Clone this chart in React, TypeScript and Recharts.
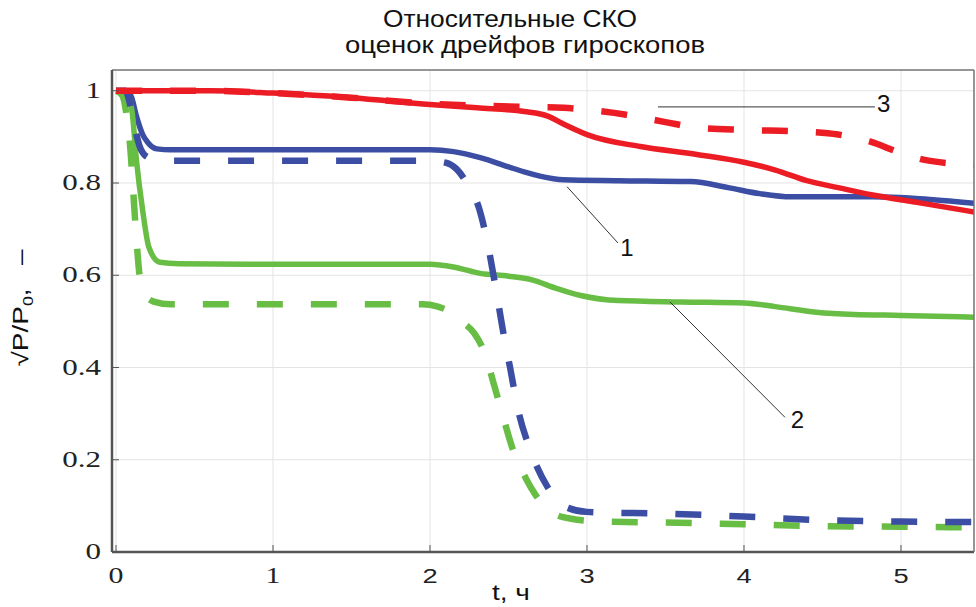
import React from "react";
import {
  LineChart,
  Line,
  XAxis,
  YAxis,
  CartesianGrid,
  ReferenceLine,
  ReferenceDot
} from "recharts";

// [t, sqrt(P/P0)]
const blueSolid = [
  [0, 1], [0.07, 1], [0.1, 0.985], [0.13, 0.945], [0.17, 0.905], [0.2, 0.889],
  [0.26, 0.874], [0.35, 0.872], [1, 0.872], [2, 0.872], [2.15, 0.868],
  [2.32, 0.855], [2.5, 0.835], [2.6, 0.824], [2.7, 0.815], [2.85, 0.807],
  [3.2, 0.805], [3.66, 0.803], [3.9, 0.79], [4.1, 0.777], [4.3, 0.77],
  [4.82, 0.77], [5.12, 0.766], [5.47, 0.756]
];
const greenSolid = [
  [0, 1], [0.05, 1], [0.1, 0.96], [0.13, 0.85], [0.17, 0.74], [0.21, 0.66],
  [0.28, 0.628], [0.4, 0.625], [1, 0.624], [2, 0.624], [2.15, 0.618],
  [2.32, 0.604], [2.5, 0.598], [2.65, 0.59], [2.8, 0.572], [2.96, 0.556],
  [3.2, 0.545], [3.6, 0.542], [4, 0.54], [4.2, 0.532], [4.46, 0.52],
  [4.7, 0.515], [5, 0.513], [5.47, 0.509]
];
const redSolid = [
  [0, 1], [0.6, 1], [1, 0.995], [1.5, 0.985], [2, 0.97], [2.3, 0.963],
  [2.6, 0.955], [2.75, 0.945], [2.85, 0.928], [3, 0.905], [3.34, 0.879],
  [3.7, 0.862], [4, 0.845], [4.2, 0.828], [4.4, 0.805], [4.6, 0.79],
  [4.82, 0.774], [5.12, 0.757], [5.47, 0.737]
];
const greenDashed = [
  [0, 1], [0.04, 0.99], [0.07, 0.94], [0.09, 0.88], [0.11, 0.78], [0.13, 0.68],
  [0.15, 0.6], [0.18, 0.56], [0.24, 0.543], [0.35, 0.537], [1, 0.537],
  [1.95, 0.537], [2.05, 0.532], [2.13, 0.52], [2.2, 0.5], [2.28, 0.475],
  [2.35, 0.43], [2.41, 0.36], [2.46, 0.3], [2.53, 0.22], [2.61, 0.16],
  [2.67, 0.125], [2.78, 0.085], [2.9, 0.072], [3.1, 0.066], [3.5, 0.064],
  [4, 0.06], [4.5, 0.056], [5, 0.055], [5.47, 0.053]
];
const blueDashed = [
  [0, 1], [0.06, 1], [0.09, 0.97], [0.12, 0.92], [0.15, 0.88], [0.2, 0.856],
  [0.28, 0.848], [1, 0.848], [2, 0.848], [2.1, 0.844], [2.17, 0.83],
  [2.25, 0.79], [2.31, 0.748], [2.36, 0.68], [2.42, 0.57], [2.47, 0.47],
  [2.51, 0.4], [2.56, 0.31], [2.64, 0.22], [2.75, 0.14], [2.85, 0.1],
  [3, 0.087], [3.5, 0.083], [4, 0.077], [4.5, 0.069], [5, 0.066], [5.47, 0.065]
];
const redDashed = [
  [0, 1], [0.6, 1], [1, 0.995], [1.5, 0.985], [2, 0.972], [2.3, 0.968],
  [2.6, 0.965], [2.85, 0.963], [3.05, 0.957], [3.25, 0.948], [3.5, 0.932],
  [3.7, 0.92], [4, 0.915], [4.35, 0.912], [4.6, 0.905], [4.8, 0.89],
  [5, 0.865], [5.15, 0.85], [5.3, 0.843], [5.47, 0.84]
];

const xTicks = [0, 1, 2, 3, 4, 5];
const yTicks = [0, 0.2, 0.4, 0.6, 0.8, 1];

// curve labels: leader line ends and text position, in data units
const callouts = [
  { text: "1", from: [2.873, 0.792], to: [3.197, 0.67], at: [3.255, 0.661] },
  { text: "2", from: [3.529, 0.542], to: [4.261, 0.292], at: [4.341, 0.288] },
  { text: "3", from: [3.452, 0.965], to: [4.834, 0.965], at: [4.889, 0.973] }
];

const RED = "#ec1c24";
const BLUE = "#3b4ea3";
const GREEN = "#68bd45";
const SANS = "'Liberation Sans', Arial, sans-serif";
const SERIF = "'Liberation Serif', 'Times New Roman', serif";

const toPts = (a: number[][]) => a.map(([t, v]) => ({ t, v }));

const XTick = ({ x, y, payload }: any) => {
  const serif = payload.value < 2;
  return (
    <g transform={`translate(${x},${y + 16}) scale(1.3,1)`}>
      <text x={0} y={0} textAnchor="middle" fill="#222"
        style={{ fontFamily: serif ? SERIF : SANS, fontSize: serif ? 23 : 21 }}>
        {payload.value}
      </text>
    </g>
  );
};

const YTick = ({ x, y, payload }: any) => (
  <g transform={`translate(${x},${y}) scale(1.35,1)`}>
    <text x={0} y={0} dy={7} textAnchor="end" fill="#222"
      style={{ fontFamily: SERIF, fontSize: 23 }}>
      {payload.value}
    </text>
  </g>
);

export default function App() {
  return (
    <div style={{ position: "absolute", left: 0, top: 0, width: 976, height: 607, background: "#fff" }}>
      <LineChart width={976} height={607}
        margin={{ top: 69, right: 0, bottom: 25, left: 52 }}>
        <CartesianGrid stroke="#e3e3e3" strokeWidth={1} />
        <XAxis dataKey="t" type="number" domain={[-0.0255, 5.465]} ticks={xTicks}
          allowDataOverflow height={30} tickSize={-7} tickMargin={22}
          tick={(p: any) => <XTick {...p} />} tickLine={{ stroke: "#555" }}
          axisLine={{ stroke: "#555", strokeWidth: 2.5 }} />
        <XAxis xAxisId="top" orientation="top" dataKey="t" type="number"
          domain={[-0.0255, 5.465]} ticks={xTicks} allowDataOverflow height={1}
          tickSize={-7} tick={false} tickLine={{ stroke: "#666" }}
          axisLine={{ stroke: "#777", strokeWidth: 1.5 }} />
        <YAxis type="number" domain={[0, 1.045]} ticks={yTicks} allowDataOverflow
          width={60} tickSize={-7} tickMargin={18} tick={(p: any) => <YTick {...p} />}
          tickLine={{ stroke: "#555" }} axisLine={{ stroke: "#555", strokeWidth: 2.5 }} />
        <YAxis yAxisId="right" orientation="right" type="number" domain={[0, 1.045]}
          ticks={yTicks} allowDataOverflow width={2} tickSize={-7} tick={false}
          tickLine={{ stroke: "#666" }} axisLine={{ stroke: "#777", strokeWidth: 1.5 }} />

        <Line data={toPts(blueSolid)} dataKey="v" type="monotone" stroke={BLUE}
          strokeWidth={5.5} dot={false} isAnimationActive={false} />
        <Line data={toPts(greenSolid)} dataKey="v" type="monotone" stroke={GREEN}
          strokeWidth={5.5} dot={false} isAnimationActive={false} />
        <Line data={toPts(redSolid)} dataKey="v" type="monotone" stroke={RED}
          strokeWidth={5.5} dot={false} isAnimationActive={false} />
        <Line data={toPts(greenDashed)} dataKey="v" type="monotone" stroke={GREEN}
          strokeWidth={6.5} strokeDasharray="26 28" dot={false} isAnimationActive={false} />
        <Line data={toPts(blueDashed)} dataKey="v" type="monotone" stroke={BLUE}
          strokeWidth={6.5} strokeDasharray="26 28" dot={false} isAnimationActive={false} />
        <Line data={toPts(redDashed)} dataKey="v" type="monotone" stroke={RED}
          strokeWidth={6.5} strokeDasharray="26 28" dot={false} isAnimationActive={false} />

        {callouts.map((c) => (
          <ReferenceLine key={"l" + c.text}
            segment={[{ x: c.from[0], y: c.from[1] }, { x: c.to[0], y: c.to[1] }]}
            stroke="#333" strokeWidth={1} />
        ))}
        {callouts.map((c) => (
          <ReferenceDot key={"d" + c.text} x={c.at[0]} y={c.at[1]} r={0}
            stroke="none" fill="none"
            label={{ value: c.text, position: "center", fontSize: 24, fontFamily: SANS, fill: "#111" }} />
        ))}
      </LineChart>

      <svg width={976} height={607}
        style={{ position: "absolute", left: 0, top: 0, pointerEvents: "none" }}>
        <text x={510} y={27} textAnchor="middle" fontSize={24} fontFamily={SANS}
          fill="#111" textLength={254} lengthAdjust="spacingAndGlyphs">
          Относительные СКО
        </text>
        <text x={525} y={53} textAnchor="middle" fontSize={24} fontFamily={SANS}
          fill="#111" textLength={360} lengthAdjust="spacingAndGlyphs">
          оценок дрейфов гироскопов
        </text>
        <text x={511} y={600} textAnchor="middle" fontSize={22} fontFamily={SANS}
          fill="#111" textLength={38} lengthAdjust="spacingAndGlyphs">
          t, ч
        </text>
        <text transform="translate(28,308) rotate(-90)" textAnchor="middle"
          fontSize={22} fontFamily={SANS} fill="#111" xmlSpace="preserve"
          textLength={117} lengthAdjust="spacingAndGlyphs">
          √P/P<tspan fontSize={14} dy={5}>0</tspan><tspan dy={-5}>,   –</tspan>
        </text>
      </svg>
    </div>
  );
}
